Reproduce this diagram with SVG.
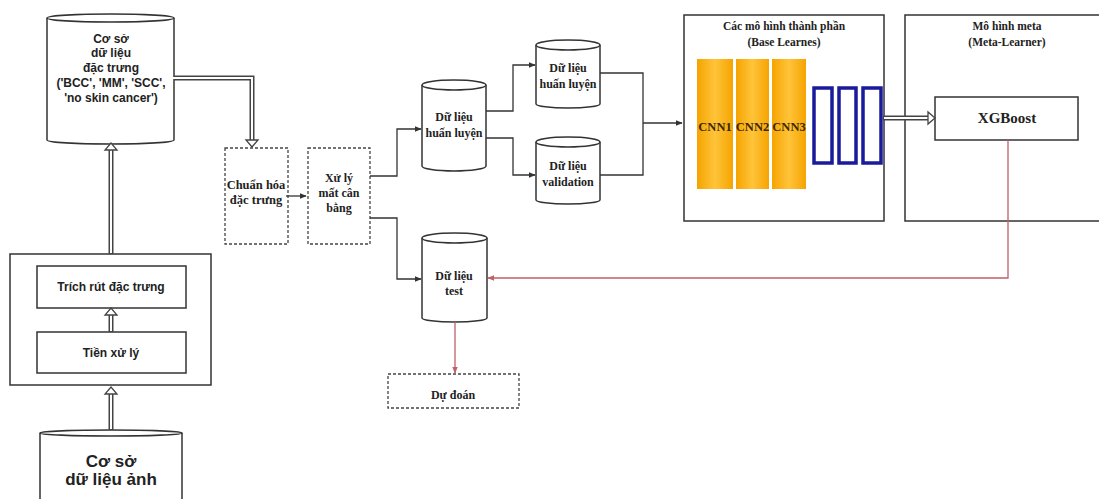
<svg xmlns="http://www.w3.org/2000/svg" width="1099" height="499" viewBox="0 0 1099 499">
<defs>
<style>
.sh{fill:#fff;stroke:#333;stroke-width:1.5}
.dash{fill:#fff;stroke:#444;stroke-width:1.3;stroke-dasharray:3,2}
.sans{font-family:"Liberation Sans",Arial,sans-serif;font-weight:bold;fill:#222;text-anchor:middle}
.serif{font-family:"Liberation Serif","Times New Roman",serif;font-weight:bold;fill:#222;text-anchor:middle}
.ln{fill:none;stroke:#333;stroke-width:1.3}
.red{fill:none;stroke:#c06068;stroke-width:1.3}
.dbo{fill:none;stroke:#444;stroke-width:5}
.dbi{fill:none;stroke:#fff;stroke-width:2}
.head{fill:#fff;stroke:#444;stroke-width:1.3}
.cnn{fill:url(#og);stroke:none}
.blue{fill:#fff;stroke:#1a1a9c;stroke-width:3.5}
</style>
<linearGradient id="og" x1="0" y1="0" x2="1" y2="0">
<stop offset="0" stop-color="#f5a400"/>
<stop offset="0.5" stop-color="#ffc43a"/>
<stop offset="1" stop-color="#f5a400"/>
</linearGradient>
<marker id="ah" viewBox="0 0 10 10" refX="9" refY="5" markerWidth="7" markerHeight="7" orient="auto" markerUnits="userSpaceOnUse">
<path d="M0,1 L10,5 L0,9 Z" fill="#333"/>
</marker>
<marker id="ar" viewBox="0 0 10 10" refX="9" refY="5" markerWidth="7" markerHeight="7" orient="auto" markerUnits="userSpaceOnUse">
<path d="M0,1 L10,5 L0,9 Z" fill="#c06068"/>
</marker>
</defs>
<rect width="1099" height="499" fill="#fff"/>

<g id="db-features">
<path class="sh" d="M47,18 V140 A63.5,4 0 0 0 174,140 V18"/>
<ellipse class="sh" cx="110.5" cy="18" rx="63.5" ry="4"/>
<text class="sans" font-size="12"><tspan x="111" y="43">Cơ sở</tspan><tspan x="111" y="57">dữ liệu</tspan><tspan x="111" y="72">đặc trưng</tspan><tspan x="111" y="87">('BCC', 'MM', 'SCC',</tspan><tspan x="111" y="102">'no skin cancer')</tspan></text>
</g>

<g id="processing">
<rect class="sh" x="10" y="254" width="201" height="131"/>
</g>
<g id="extract">
<rect class="sh" x="37" y="266" width="149" height="42"/>
<text class="sans" font-size="12" x="111" y="291">Trích rút đặc trưng</text>
</g>
<g id="preprocess">
<rect class="sh" x="37" y="332" width="149" height="41"/>
<text class="sans" font-size="12" x="111" y="357">Tiền xử lý</text>
</g>

<g id="db-images">
<path class="sh" d="M40,433 V505 H182 V433"/>
<ellipse class="sh" cx="111" cy="433" rx="71" ry="3"/>
<text class="sans" font-size="17"><tspan x="111" y="467">Cơ sở</tspan><tspan x="111" y="485">dữ liệu ảnh</tspan></text>
</g>

<g id="normalize">
<rect class="dash" x="225" y="148" width="63" height="96"/>
<text class="serif" font-size="12.5"><tspan x="256" y="189">Chuẩn hóa</tspan><tspan x="256" y="204">đặc trưng</tspan></text>
</g>

<g id="imbalance">
<rect class="dash" x="308" y="148" width="62" height="96"/>
<text class="serif" font-size="12"><tspan x="339" y="182">Xử lý</tspan><tspan x="339" y="197">mất cân</tspan><tspan x="339" y="212">bằng</tspan></text>
</g>

<g id="train-main">
<path class="sh" d="M422,85 V166 A32,5 0 0 0 486,166 V85"/>
<ellipse class="sh" cx="454" cy="85" rx="32" ry="5"/>
<text class="serif" font-size="12"><tspan x="454" y="121">Dữ liệu</tspan><tspan x="454" y="137">huấn luyện</tspan></text>
</g>

<g id="train">
<path class="sh" d="M536,45 V104 A32,4 0 0 0 600,104 V45"/>
<ellipse class="sh" cx="568" cy="45" rx="32" ry="5"/>
<text class="serif" font-size="12"><tspan x="568" y="72">Dữ liệu</tspan><tspan x="568" y="88">huấn luyện</tspan></text>
</g>

<g id="validation">
<path class="sh" d="M536,142 V200 A32,4 0 0 0 600,200 V142"/>
<ellipse class="sh" cx="568" cy="142" rx="32" ry="5"/>
<text class="serif" font-size="12"><tspan x="568" y="170">Dữ liệu</tspan><tspan x="568" y="186">validation</tspan></text>
</g>

<g id="test">
<path class="sh" d="M422,238 V318 A32.5,4 0 0 0 487,318 V238"/>
<ellipse class="sh" cx="454.5" cy="238" rx="32.5" ry="5"/>
<text class="serif" font-size="12"><tspan x="454" y="280">Dữ liệu</tspan><tspan x="454" y="295">test</tspan></text>
</g>

<g id="predict">
<rect class="dash" x="388" y="374" width="131" height="34"/>
<text class="serif" font-size="12" x="453" y="399">Dự đoán</text>
</g>

<g id="base-learners">
<rect class="sh" x="684" y="15" width="200" height="206"/>
<text class="serif" font-size="11.5"><tspan x="784" y="30">Các mô hình thành phần</tspan><tspan x="784" y="46">(Base Learnes)</tspan></text>
<rect class="cnn" x="697" y="59" width="36" height="130"/>
<rect class="cnn" x="736" y="59" width="33" height="130"/>
<rect class="cnn" x="772" y="59" width="34" height="130"/>
<text class="serif" font-size="12.5" style="fill:#3a2800"><tspan x="715" y="131">CNN1</tspan><tspan x="752.5" y="131">CNN2</tspan><tspan x="789" y="131">CNN3</tspan></text>
<rect class="blue" x="814" y="88" width="18" height="75"/>
<rect class="blue" x="839" y="88" width="17" height="75"/>
<rect class="blue" x="863" y="88" width="18" height="75"/>
</g>

<g id="meta-learner">
<rect class="sh" x="905" y="15" width="200" height="206"/>
<text class="serif" font-size="11.5"><tspan x="1007" y="30">Mô hình meta</tspan><tspan x="1007" y="46">(Meta-Learner)</tspan></text>
</g>
<g id="xgboost">
<rect class="sh" x="935" y="97" width="143" height="43"/>
<text class="serif" font-size="15" x="1007" y="123">XGBoost</text>
</g>

<g id="connectors">
<path class="dbo" d="M174,78 H252 V140"/>
<path class="dbi" d="M173,78 H252 V141"/>
<polygon class="head" points="246,140 258,140 252,147"/>
<path class="dbo" d="M111,254 V148"/>
<path class="dbi" d="M111,253 V147"/>
<polygon class="head" points="105,150 117,150 111,143"/>
<path class="dbo" d="M111,332 V314"/>
<path class="dbi" d="M111,331 V313"/>
<polygon class="head" points="105,315 117,315 111,308"/>
<path class="dbo" d="M111,430 V393"/>
<path class="dbi" d="M111,429 V392"/>
<polygon class="head" points="105,394 117,394 111,387"/>
<path class="dbo" d="M883,118 H928"/>
<path class="dbi" d="M884,118 H929"/>
<polygon class="head" points="928,112 928,124 935,118"/>
<path class="ln" d="M286,196 H306" marker-end="url(#ah)"/>
<path class="ln" d="M370,176 H397 V129 H421" marker-end="url(#ah)"/>
<path class="ln" d="M370,218 H397 V279 H421" marker-end="url(#ah)"/>
<path class="ln" d="M486,111 H513 V65 H535" marker-end="url(#ah)"/>
<path class="ln" d="M486,138 H513 V175 H535" marker-end="url(#ah)"/>
<path class="ln" d="M600,73 H643 V175 H600"/>
<path class="ln" d="M643,123 H682" marker-end="url(#ah)"/>
<path class="red" d="M1008,140 V278 H488" marker-end="url(#ar)"/>
<path class="red" d="M455,322 V373" marker-end="url(#ar)"/>
</g>
</svg>
